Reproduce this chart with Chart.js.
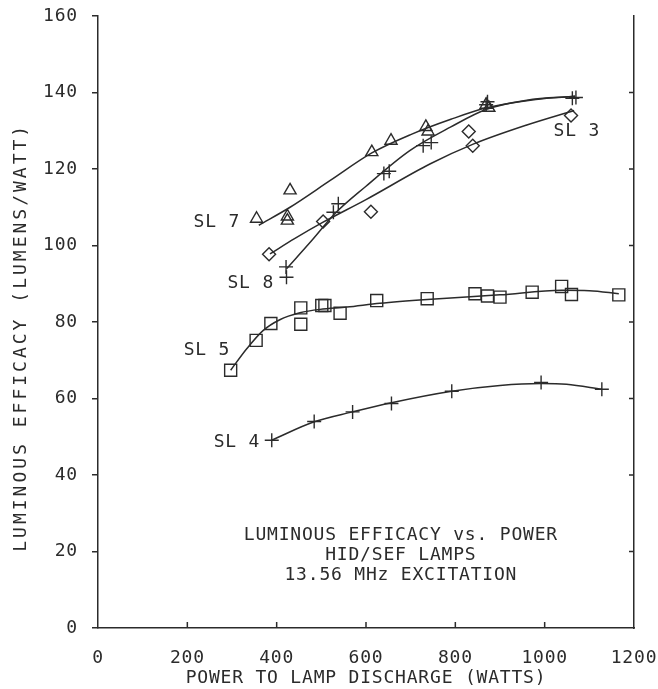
<!DOCTYPE html>
<html lang="en">
<head>
<meta charset="UTF-8">
<title>Luminous efficacy vs. power</title>
<style>
  * { margin: 0; padding: 0; }
  body { background: #fff; width: 658px; height: 689px; overflow: hidden; }
  canvas { display: block; }
</style>
</head>
<body>
<canvas id="c" width="658" height="689"></canvas>
<script src="https://cdn.jsdelivr.net/npm/chart.js@4.4.1/dist/chart.umd.min.js"></script>
<script>
// measured points, watts / lumens per watt
const sl4X = [389, 484, 570, 657, 792, 992, 1128];
const sl4Y = [49.1, 54.0, 56.5, 58.7, 61.9, 64.2, 62.4];

const sl5X = [297, 354, 387, 454, 454, 501, 508, 542, 624, 737, 844, 872, 900, 972, 1038, 1060, 1166];
const sl5Y = [67.4, 75.2, 79.6, 83.7, 79.4, 84.3, 84.3, 82.3, 85.6, 86.1, 87.4, 86.8, 86.5, 87.8, 89.3, 87.2, 87.1];

const sl7X = [355, 430, 424, 424, 613, 656, 734, 739, 869, 875];
const sl7Y = [107.0, 114.4, 107.6, 106.5, 124.4, 127.4, 131.0, 129.8, 136.8, 136.0];

const sl8X = [421, 422, 527, 538, 640, 652, 728, 746, 869, 872, 1062, 1070];
const sl8Y = [94.4, 91.7, 108.7, 110.9, 118.8, 119.4, 126.1, 126.9, 136.8, 137.6, 138.5, 138.7];

const sl3X = [383, 504, 611, 830, 839, 1059];
const sl3Y = [97.7, 106.3, 108.8, 129.8, 126.1, 134.0];

// fitted curves as drawn on the plot
const fit4X = [389, 484, 570, 657, 792, 900, 992, 1049, 1128];
const fit4Y = [49.1, 53.9, 56.5, 58.9, 61.9, 63.4, 63.9, 63.7, 62.4];

const fit5X = [297, 333, 370, 407, 452, 497, 557, 631, 737, 900, 1038, 1100, 1166];
const fit5Y = [67.4, 73.0, 77.8, 80.6, 82.4, 83.3, 83.9, 84.9, 85.9, 87.1, 88.3, 88.2, 87.4];

const fit7X = [360, 430, 520, 613, 700, 790, 870, 980, 1068];
const fit7Y = [105.3, 110.0, 117.0, 124.2, 129.0, 133.0, 136.0, 138.2, 139.0];

const fit8X = [422, 480, 530, 600, 698, 790, 870, 960, 1068];
const fit8Y = [93.9, 101.5, 108.3, 115.5, 124.8, 131.0, 135.6, 138.0, 139.0];

const fit3X = [385, 440, 504, 600, 743, 840, 960, 1066];
const fit3Y = [97.8, 101.8, 106.1, 112.0, 121.3, 126.5, 131.5, 135.3];

const curveNames = ['SL 7', 'SL 8', 'SL 3', 'SL 5', 'SL 4'];
const nameAtX = [266, 342, 1072, 244, 311];
const nameAtY = [106, 90, 129.8, 72.6, 48.6];

const noteLines = ['LUMINOUS EFFICACY vs. POWER', 'HID/SEF LAMPS', '13.56 MHz EXCITATION'];
const noteAtX = 678;
const noteAtY = [24.3, 19.1, 13.9];

const yTitle = 'LUMINOUS EFFICACY (LUMENS/WATT)';
const yTitleAt = 76;   // centre of the rotated title, in lumens/watt

const INK = '#2b2b2b';
const FONT = {family: '"DejaVu Sans Mono", "Liberation Mono", monospace', size: 18};
const SPACING = '0.8px';

const pts = (xs, ys) => xs.map((x, i) => ({x, y: ys[i]}));

function marks(xs, ys, style, r) {
  return {data: pts(xs, ys), showLine: false, pointStyle: style, pointRadius: r,
          pointBorderColor: INK, pointBackgroundColor: 'rgba(0,0,0,0)', pointBorderWidth: 1.4};
}
function curve(xs, ys) {
  return {data: pts(xs, ys), showLine: true, borderColor: INK, borderWidth: 1.5,
          pointRadius: 0, cubicInterpolationMode: 'monotone'};
}

// plotter-style lettering and inward ticks on bottom/right frame
const plotter = {
  id: 'plotter',
  beforeDraw(chart) { chart.ctx.letterSpacing = SPACING; },
  afterDatasetsDraw(chart) {
    const {ctx, chartArea: a, scales: {x, y}} = chart;
    ctx.save();
    ctx.strokeStyle = INK;
    ctx.lineWidth = 1.5;
    ctx.beginPath();
    x.ticks.forEach(t => {
      if (t.value <= x.min || t.value >= x.max) return;
      const px = x.getPixelForValue(t.value);
      ctx.moveTo(px, a.bottom); ctx.lineTo(px, a.bottom - 6);
    });
    y.ticks.forEach(t => {
      if (t.value <= y.min || t.value >= y.max) return;
      const py = y.getPixelForValue(t.value);
      ctx.moveTo(a.right, py); ctx.lineTo(a.right - 5, py);
    });
    ctx.stroke();

    ctx.fillStyle = INK;
    ctx.font = `${FONT.size}px ${FONT.family}`;
    ctx.letterSpacing = SPACING;
    ctx.textAlign = 'center';
    ctx.textBaseline = 'middle';
    curveNames.forEach((s, i) => {
      ctx.fillText(s, x.getPixelForValue(nameAtX[i]), y.getPixelForValue(nameAtY[i]));
    });
    noteLines.forEach((s, i) => {
      ctx.fillText(s, x.getPixelForValue(noteAtX), y.getPixelForValue(noteAtY[i]));
    });

    // vertical axis title, widely spaced like the pen plotter lettering
    ctx.letterSpacing = '3px';
    ctx.translate(21, y.getPixelForValue(yTitleAt));
    ctx.rotate(-Math.PI / 2);
    ctx.fillText(yTitle, 0, 0);
    ctx.restore();
  }
};

Chart.defaults.font.family = FONT.family;
Chart.defaults.font.size = FONT.size;
Chart.defaults.color = INK;

new Chart(document.getElementById('c'), {
  type: 'scatter',
  data: {
    datasets: [
      curve(fit7X, fit7Y), curve(fit8X, fit8Y), curve(fit3X, fit3Y),
      curve(fit5X, fit5Y), curve(fit4X, fit4Y),
      marks(sl7X, sl7Y, 'triangle', 7),
      marks(sl8X, sl8Y, 'cross', 7),
      marks(sl3X, sl3Y, 'rectRot', 6.5),
      marks(sl5X, sl5Y, 'rect', 8.5),
      marks(sl4X, sl4Y, 'cross', 7),
    ]
  },
  options: {
    responsive: false,
    animation: false,
    layout: {padding: {top: 16, right: 0, left: 0, bottom: 0}},
    plugins: {legend: {display: false}, tooltip: {enabled: false}},
    scales: {
      x: {
        type: 'linear', min: 0, max: 1200,
        ticks: {stepSize: 200, padding: 20, maxRotation: 0, callback: v => String(v)},
        grid: {drawOnChartArea: false, drawTicks: false},
        border: {color: INK, width: 1.5},
        title: {display: true, text: 'POWER TO LAMP DISCHARGE (WATTS)', padding: {top: 0, bottom: 0}},
        afterFit(s) { s.height = 61; s.paddingLeft = 0; s.paddingRight = 0; }
      },
      y: {
        min: 0, max: 160,
        ticks: {stepSize: 20, padding: 14},
        grid: {drawOnChartArea: false, tickLength: 6, color: INK, lineWidth: 1.5},
        border: {color: INK, width: 1.5},
        afterFit(s) { s.width = 98; s.paddingTop = 0; s.paddingBottom = 0; }
      },
      y2: {
        position: 'right', min: 0, max: 160,
        ticks: {display: false, stepSize: 20},
        grid: {drawOnChartArea: false, drawTicks: false},
        border: {color: INK, width: 1.5},
        afterFit(s) { s.width = 24; s.paddingTop = 0; s.paddingBottom = 0; }
      }
    }
  },
  plugins: [plotter]
});
</script>
</body>
</html>
